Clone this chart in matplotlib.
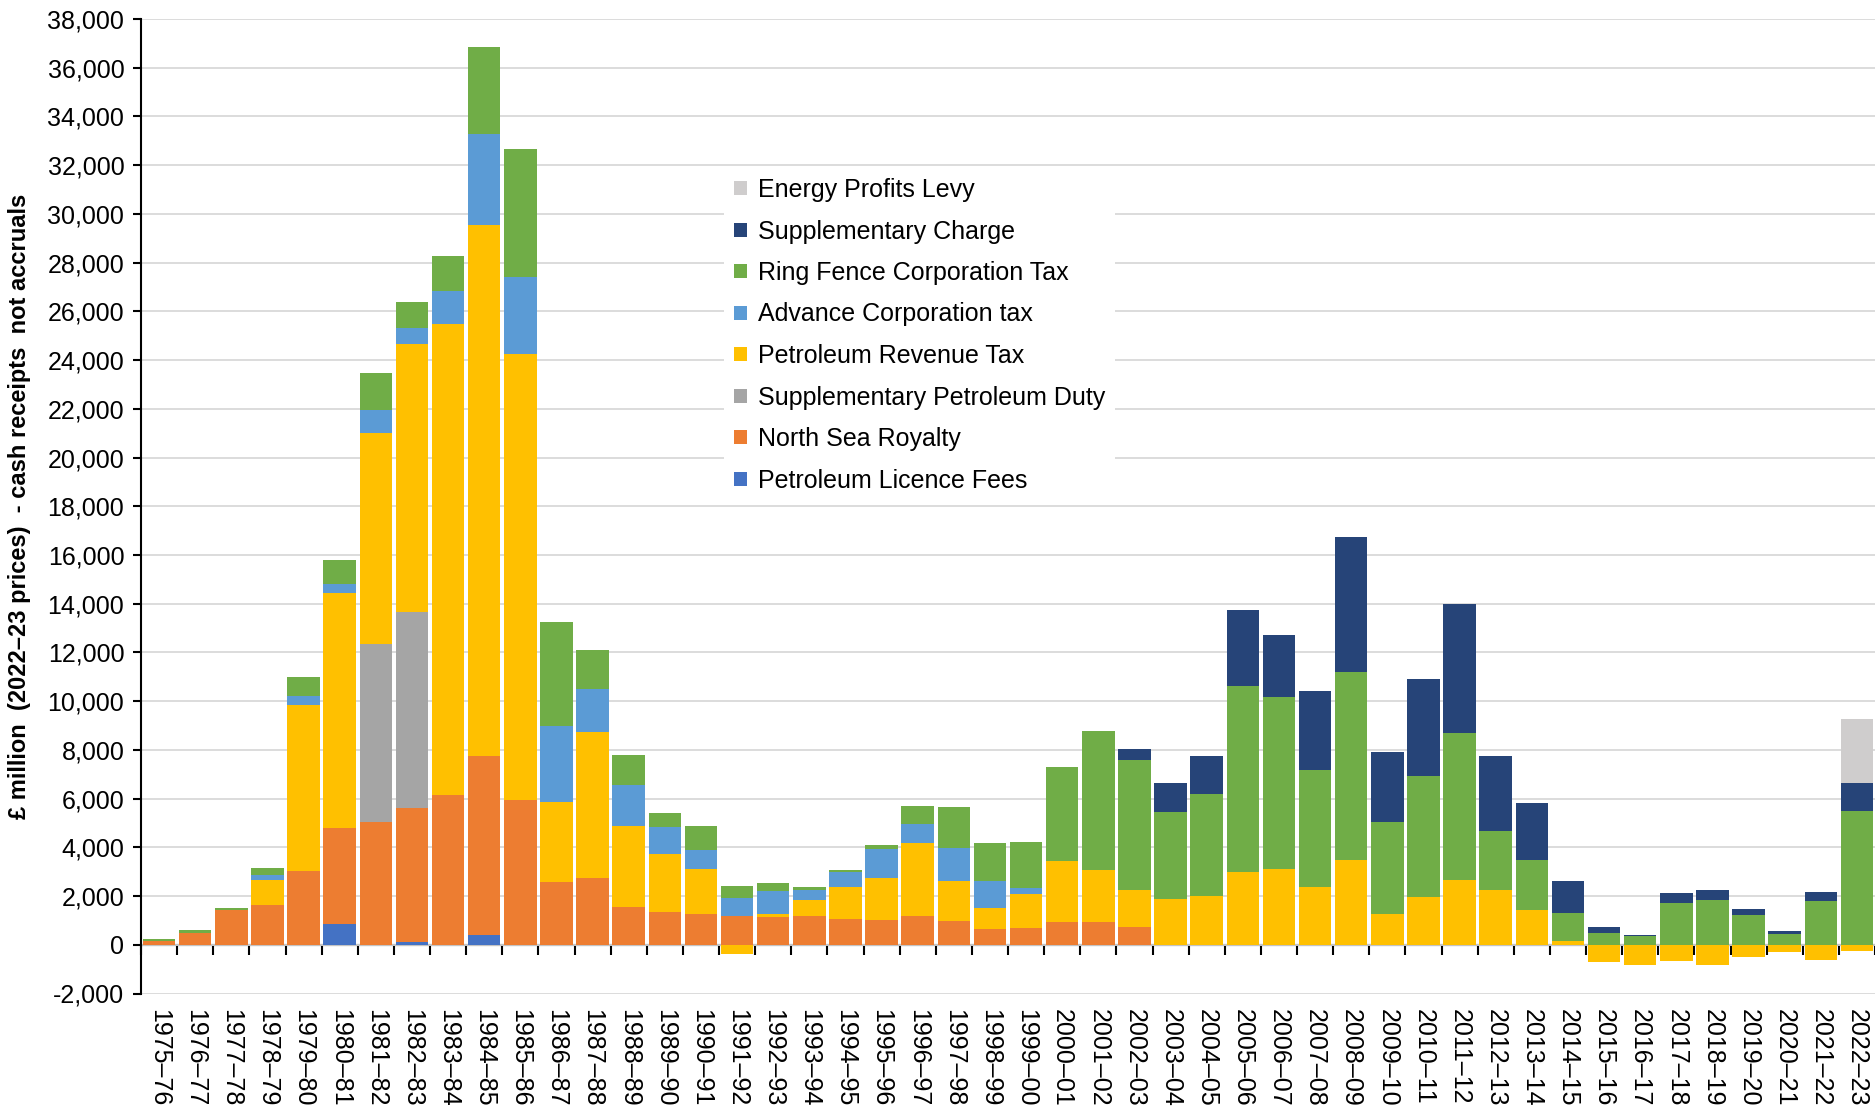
import matplotlib
matplotlib.use("Agg")
import matplotlib.pyplot as plt
import numpy as np

plt.rcParams['font.family'] = ['Liberation Sans', 'DejaVu Sans']

# financial years 1975-76 .. 2022-23
start_years = list(range(1975, 2023))
year_labels = ["{}\u2013{:02d}".format(y, (y + 1) % 100) for y in start_years]

# £ million, 2022-23 prices
licence_fees = [0, 0, 0, 0, 0, 860, 0, 130, 0, 420, 0, 0, 0, 0, 0, 0,
                0, 0, 0, 0, 0, 0, 0, 0, 0, 0, 0, 0, 0, 0, 0, 0,
                0, 0, 0, 0, 0, 0, 0, 0, 0, 0, 0, 0, 0, 0, 0, 0]
royalty = [170, 500, 1410, 1620, 3010, 3950, 5030, 5470, 6130, 7330, 5940, 2590,
           2750, 1545, 1335, 1280, 1180, 1150, 1200, 1070, 1025, 1200, 970, 640,
           700, 930, 930, 710, 0, 0, 0, 0, 0, 0, 0, 0,
           0, 0, 0, 0, 0, 0, 0, 0, 0, 0, 0, 0]
supp_petroleum_duty = [0, 0, 0, 0, 0, 0, 7330, 8060, 0, 0, 0, 0,
                       0, 0, 0, 0, 0, 0, 0, 0, 0, 0, 0, 0,
                       0, 0, 0, 0, 0, 0, 0, 0, 0, 0, 0, 0,
                       0, 0, 0, 0, 0, 0, 0, 0, 0, 0, 0, 0]
prt = [0, 0, 0, 1020, 6830, 9630, 8640, 11020, 19350, 21780, 18300, 3250,
       6000, 3325, 2380, 1830, -390, 100, 655, 1310, 1710, 2980, 1630, 850,
       1390, 2515, 2150, 1530, 1860, 2000, 2980, 3120, 2380, 3500, 1260, 1955,
       2650, 2240, 1410, 140, -720, -816, -675, -847, -486, -298, -612, -251]
act = [0, 0, 0, 210, 370, 370, 970, 630, 1335, 3740, 3170, 3120,
       1750, 1675, 1125, 760, 730, 940, 390, 600, 1200, 780, 1380, 1110,
       230, 0, 0, 0, 0, 0, 0, 0, 0, 0, 0, 0,
       0, 0, 0, 0, 0, 0, 0, 0, 0, 0, 0, 0]
rfct = [50, 90, 80, 290, 790, 970, 1490, 1070, 1440, 3590, 5240, 4270,
        1620, 1260, 575, 995, 500, 340, 130, 105, 140, 750, 1680, 1590,
        1900, 3840, 5700, 5330, 3580, 4180, 7655, 7050, 4780, 7700, 3760, 4960,
        6040, 2410, 2080, 1160, 480, 345, 1695, 1836, 1224, 439, 1789, 5507]
supp_charge = [0, 0, 0, 0, 0, 0, 0, 0, 0, 0, 0, 0,
               0, 0, 0, 0, 0, 0, 0, 0, 0, 0, 0, 0,
               0, 0, 0, 465, 1200, 1570, 3120, 2560, 3240, 5520, 2880, 3990,
               5280, 3100, 2320, 1310, 230, 60, 420, 410, 235, 110, 375, 1115]
energy_profits_levy = [0] * 47 + [2650]

series = [
    ("Petroleum Licence Fees", licence_fees, "#4472C4"),
    ("North Sea Royalty", royalty, "#ED7D31"),
    ("Supplementary Petroleum Duty", supp_petroleum_duty, "#A5A5A5"),
    ("Petroleum Revenue Tax", prt, "#FFC000"),
    ("Advance Corporation tax", act, "#5B9BD5"),
    ("Ring Fence Corporation Tax", rfct, "#70AD47"),
    ("Supplementary Charge", supp_charge, "#264478"),
    ("Energy Profits Levy", energy_profits_levy, "#CFCDCD"),
]

y_min, y_max = -2000, 38000

fig = plt.figure(figsize=(18.75, 11.09), dpi=100)
ax = fig.add_axes([141 / 1875, 1 - 993.5 / 1109, 1 - 141 / 1875, (993.5 - 19) / 1109])

x = np.arange(len(year_labels))
pos_bottom = np.zeros(len(x))
neg_bottom = np.zeros(len(x))
handles = []
for name, vals, col in series:
    v = np.array(vals, dtype=float)
    bottom = np.where(v >= 0, pos_bottom, neg_bottom)
    h = ax.bar(x, v, width=0.9, bottom=bottom, color=col, label=name, zorder=3)
    handles.append(h)
    pos_bottom += np.where(v > 0, v, 0)
    neg_bottom += np.where(v < 0, v, 0)

ax.set_xlim(-0.5, len(x) - 0.5)
ax.set_ylim(y_min, y_max)
ax.set_yticks(np.arange(y_min, y_max + 1, 2000))
ax.yaxis.set_major_formatter(matplotlib.ticker.FuncFormatter(lambda v, p: "{:,.0f}".format(v)))
ax.grid(axis='y', color="#D9D9D9", linewidth=1.3, zorder=0)
ax.set_axisbelow(True)

ax.set_xticks(x)
ax.set_xticklabels(year_labels, rotation=-90, fontsize=18)
ax.tick_params(axis='x', length=0, pad=11)
ax.tick_params(axis='y', labelsize=18, length=6, width=1.5, direction='out', pad=6)

for s in ['top', 'right', 'bottom']:
    ax.spines[s].set_visible(False)
ax.spines['left'].set_linewidth(1.5)

# zero line with category-boundary ticks
sec = ax.secondary_xaxis((0 - y_min) / (y_max - y_min))
sec.set_xticks(np.arange(-0.5, len(x), 1))
sec.set_xticklabels([])
sec.tick_params(length=7, width=1.5, color='black')
sec.spines['bottom'].set_linewidth(1.5)
sec.spines['bottom'].set_color('black')

ax.set_ylabel("£ million  (2022\u201323 prices)  - cash receipts  not accruals",
              fontsize=17, fontweight='bold', labelpad=12)

leg = ax.legend(handles[::-1], [s[0] for s in series][::-1], loc='upper left',
                bbox_to_anchor=(724 / 1875, 1 - 168 / 1109), bbox_transform=fig.transFigure,
                fontsize=18, frameon=True, facecolor='white', edgecolor='none', framealpha=1,
                handlelength=0.5, handleheight=0.5, handletextpad=0.45, labelspacing=0.70,
                borderpad=0.4, borderaxespad=0)
leg.set_zorder(5)

fig.savefig("out.png", dpi=100)
